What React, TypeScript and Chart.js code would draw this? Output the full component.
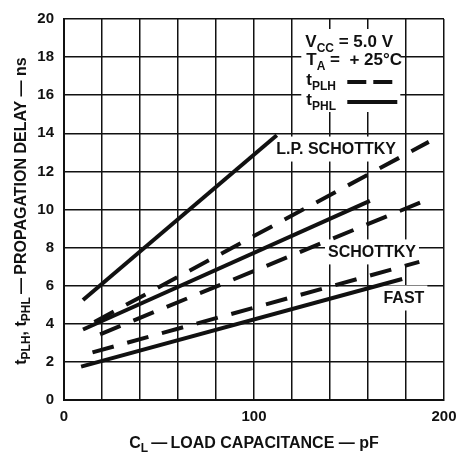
import React, { useEffect, useRef } from 'react';
import { Chart, registerables } from 'chart.js';

Chart.register(...registerables);

// ---- data ----
const xMin = 0, xMax = 200, xStep = 20;
const yMin = 0, yMax = 20, yStep = 2;
const xLabelValues = [0, 100, 200];

const lpPhlX = [10, 112];
const lpPhlY = [5.25, 13.9];
const lpPlhX = [16, 192];
const lpPlhY = [4.1, 13.55];
const sPhlX = [10, 161];
const sPhlY = [3.7, 10.45];
const sPlhX = [19, 192];
const sPlhY = [3.45, 10.55];
const fPhlX = [9, 178];
const fPhlY = [1.75, 6.35];
const fPlhX = [15, 187];
const fPlhY = [2.5, 7.25];

const curveLabels = ['L.P. SCHOTTKY', 'SCHOTTKY', 'FAST'];
const curveLabelX = [143.2, 162.1, 178.9];
const curveLabelY = [13.2, 7.8, 5.38];

const legendAnchor = { x: 127, y: 20 };

const FONT = '"Liberation Sans", Arial, Helvetica, sans-serif';
const INK = '#111';

type Seg = { t: string; sub?: boolean };

function segWidth(ctx: CanvasRenderingContext2D, segs: Seg[], size: number) {
  let w = 0;
  for (const s of segs) {
    ctx.font = `bold ${s.sub ? Math.round(size * 0.72) : size}px ${FONT}`;
    w += ctx.measureText(s.t).width;
  }
  return w;
}

function drawSegs(ctx: CanvasRenderingContext2D, segs: Seg[], x: number, y: number, size: number) {
  let cx = x;
  ctx.textBaseline = 'alphabetic';
  ctx.textAlign = 'left';
  for (const s of segs) {
    const fs = s.sub ? Math.round(size * 0.72) : size;
    ctx.font = `bold ${fs}px ${FONT}`;
    ctx.fillText(s.t, cx, s.sub ? y + size * 0.28 : y);
    cx += ctx.measureText(s.t).width;
  }
}

const toPts = (xs: number[], ys: number[]) => xs.map((x, i) => ({ x, y: ys[i] }));

const overlay = {
  id: 'overlay',
  beforeDatasetsDraw(chart: any) {
    const ctx: CanvasRenderingContext2D = chart.ctx;
    const xs = chart.scales.x, ys = chart.scales.y;
    ctx.save();
    ctx.fillStyle = '#fff';
    const ax = xs.getPixelForValue(legendAnchor.x);
    const ay = ys.getPixelForValue(legendAnchor.y);
    ctx.fillRect(ax - 4, ay + 10, 99, 83);
    ctx.font = `bold 16px ${FONT}`;
    curveLabels.forEach((t, i) => {
      const px = xs.getPixelForValue(curveLabelX[i]);
      const py = ys.getPixelForValue(curveLabelY[i]);
      const w = ctx.measureText(t).width;
      ctx.fillRect(px - w / 2 - 3, py - 12, w + 6, 25);
    });
    ctx.restore();
  },
  afterDatasetsDraw(chart: any) {
    const ctx: CanvasRenderingContext2D = chart.ctx;
    const xs = chart.scales.x, ys = chart.scales.y;
    ctx.save();
    ctx.fillStyle = INK;
    ctx.font = `bold 16px ${FONT}`;
    ctx.textAlign = 'center';
    ctx.textBaseline = 'middle';
    curveLabels.forEach((t, i) => {
      ctx.fillText(t, xs.getPixelForValue(curveLabelX[i]), ys.getPixelForValue(curveLabelY[i]) + 1);
    });
    const ax = xs.getPixelForValue(legendAnchor.x);
    const ay = ys.getPixelForValue(legendAnchor.y);
    drawSegs(ctx, [{ t: 'V' }, { t: 'CC', sub: true }, { t: ' = 5.0 V' }], ax, ay + 28, 17);
    drawSegs(ctx, [{ t: 'T' }, { t: 'A', sub: true }, { t: ' =  + 25°C' }], ax + 1, ay + 46, 17);
    drawSegs(ctx, [{ t: 't' }, { t: 'PLH', sub: true }], ax + 1, ay + 66, 17);
    drawSegs(ctx, [{ t: 't' }, { t: 'PHL', sub: true }], ax + 1, ay + 86, 17);
    ctx.strokeStyle = INK;
    ctx.lineWidth = 4;
    ctx.setLineDash([19, 7]);
    ctx.beginPath();
    ctx.moveTo(ax + 42, ay + 63);
    ctx.lineTo(ax + 92, ay + 63);
    ctx.stroke();
    ctx.setLineDash([]);
    ctx.beginPath();
    ctx.moveTo(ax + 42, ay + 83);
    ctx.lineTo(ax + 92, ay + 83);
    ctx.stroke();
    ctx.restore();
  },
  afterDraw(chart: any) {
    const ctx: CanvasRenderingContext2D = chart.ctx;
    const area = chart.chartArea;
    ctx.save();
    ctx.fillStyle = INK;
    const xt: Seg[] = [{ t: 'C' }, { t: 'L', sub: true }, { t: '\u2009\u2014\u2009LOAD CAPACITANCE \u2014 pF' }];
    const xw = segWidth(ctx, xt, 16);
    drawSegs(ctx, xt, (area.left + area.right) / 2 - xw / 2, 448, 16);
    const yt: Seg[] = [
      { t: 't' }, { t: 'PLH', sub: true }, { t: ', t' }, { t: 'PHL', sub: true },
      { t: '\u2009\u2014\u2009PROPAGATION DELAY \u2014 ns' },
    ];
    const yw = segWidth(ctx, yt, 16);
    ctx.translate(26, 211);
    ctx.rotate(-Math.PI / 2);
    drawSegs(ctx, yt, -yw / 2, 0, 16);
    ctx.restore();
  },
};

export default function App() {
  const ref = useRef<HTMLCanvasElement>(null);
  useEffect(() => {
    if (!ref.current) return;
    const solid = { borderColor: INK, borderWidth: 4, pointRadius: 0, showLine: true, fill: false, borderCapStyle: 'butt' as const };
    const dashed = { ...solid, borderDash: [22, 14] };
    const chart = new Chart(ref.current, {
      type: 'scatter',
      data: {
        datasets: [
          { label: 'L.P. Schottky tPHL', data: toPts(lpPhlX, lpPhlY), ...solid },
          { label: 'L.P. Schottky tPLH', data: toPts(lpPlhX, lpPlhY), ...dashed },
          { label: 'Schottky tPHL', data: toPts(sPhlX, sPhlY), ...solid },
          { label: 'Schottky tPLH', data: toPts(sPlhX, sPlhY), ...dashed },
          { label: 'FAST tPHL', data: toPts(fPhlX, fPhlY), ...solid },
          { label: 'FAST tPLH', data: toPts(fPlhX, fPlhY), ...dashed },
        ],
      },
      options: {
        responsive: false,
        animation: false,
        layout: { padding: { left: 0, right: 14, top: 19, bottom: 0 } },
        plugins: { legend: { display: false }, tooltip: { enabled: false }, title: { display: false } },
        scales: {
          x: {
            type: 'linear',
            min: xMin,
            max: xMax,
            afterFit: (s: any) => { s.height = 53; s.paddingLeft = 0; s.paddingRight = 0; },
            afterBuildTicks: (s: any) => {
              const t = [];
              for (let v = xMin; v <= xMax; v += xStep) t.push({ value: v });
              s.ticks = t;
            },
            ticks: {
              autoSkip: false,
              maxRotation: 0,
              padding: 8,
              color: INK,
              font: { family: FONT, size: 15, weight: 'bold' },
              callback: (v: any) => (xLabelValues.includes(Number(v)) ? String(v) : ''),
            },
            grid: { color: INK, lineWidth: 1.5, drawTicks: false },
            border: { display: true, color: INK, width: 2 },
          },
          y: {
            type: 'linear',
            min: yMin,
            max: yMax,
            afterFit: (s: any) => { s.width = 64; s.paddingTop = 0; s.paddingBottom = 0; },
            ticks: {
              stepSize: yStep,
              padding: 10,
              color: INK,
              font: { family: FONT, size: 15, weight: 'bold' },
            },
            grid: { color: INK, lineWidth: 1.5, drawTicks: false },
            border: { display: true, color: INK, width: 2 },
          },
        },
      },
      plugins: [overlay],
    });
    return () => chart.destroy();
  }, []);
  return (
    <div style={{ position: 'fixed', left: 0, top: 0, width: 458, height: 453, background: '#fff' }}>
      <canvas ref={ref} width={458} height={453} style={{ display: 'block' }} />
    </div>
  );
}
